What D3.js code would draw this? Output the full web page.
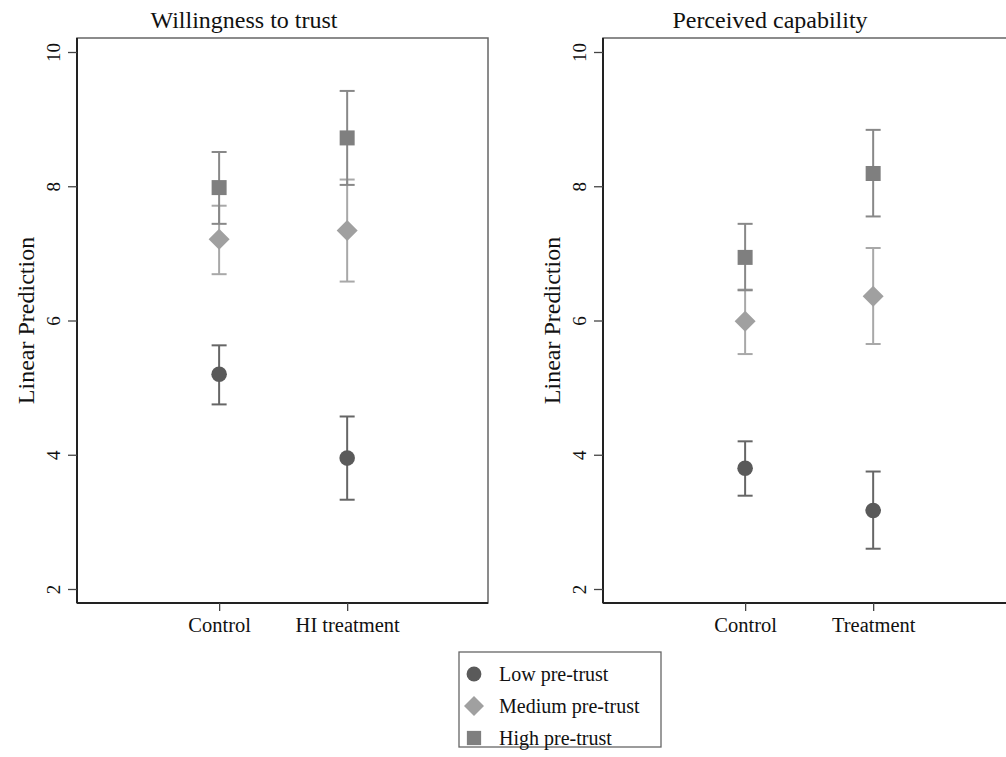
<!DOCTYPE html>
<html>
<head>
<meta charset="utf-8">
<script src="https://d3js.org/d3.v7.min.js"></script>
<style>
  body { margin: 0; background: #fff; }
  text { font-family: "Liberation Serif", "Times New Roman", serif; fill: #111; }
</style>
</head>
<body>
<svg id="chart" width="1006" height="757"></svg>
<script>
// data
var groups = ["Low pre-trust", "Medium pre-trust", "High pre-trust"]
var panelTitles = ["Willingness to trust", "Perceived capability"]
var catsLeft = ["Control", "HI treatment"]
var catsRight = ["Control", "Treatment"]
var yTicks = [2, 4, 6, 8, 10]

// [control, treatment] per group: estimate, lower, upper
var trustEst = [[5.20, 3.95], [7.21, 7.34], [7.98, 8.72]]
var trustLo  = [[4.75, 3.33], [6.69, 6.58], [7.44, 8.02]]
var trustHi  = [[5.63, 4.57], [7.71, 8.10], [8.51, 9.42]]

var capEst = [[3.80, 3.17], [5.99, 6.36], [6.94, 8.19]]
var capLo  = [[3.39, 2.60], [5.50, 5.65], [6.45, 7.55]]
var capHi  = [[4.20, 3.75], [6.46, 7.08], [7.44, 8.84]]

var markerFill = ["#5a5a5a", "#a0a0a0", "#7f7f7f"]
var barColor = ["#666666", "#a8a8a8", "#888888"]
var shapes = ["circle", "diamond", "square"]

var svg = d3.select("#chart")

var plotTop = 38, plotBottom = 603, panelW = 411
var y = d3.scaleLinear().domain([2, 10]).range([589, 52])

function drawMarker(g, shape, cx, cy, fill, s) {
    s = s || 1
    if (shape == "circle") {
        g.append("circle").attr("cx", cx).attr("cy", cy).attr("r", 7.8 * s).attr("fill", fill)
    } else if (shape == "diamond") {
        var r = 10.5 * s
        g.append("path")
            .attr("d", "M" + cx + "," + (cy - r) + "L" + (cx + r) + "," + cy + "L" + cx + "," + (cy + r) + "L" + (cx - r) + "," + cy + "Z")
            .attr("fill", fill)
    } else {
        var h = 7.5 * s
        g.append("rect").attr("x", cx - h).attr("y", cy - h).attr("width", 2 * h).attr("height", 2 * h).attr("fill", fill)
    }
}

function drawPanel(left, title, cats, est, lo, hi) {
    var g = svg.append("g")
    var x = d3.scaleLinear().domain([-1.11, 2.1]).range([left, left + panelW])

    // frame
    g.append("rect")
        .attr("x", left).attr("y", plotTop).attr("width", panelW).attr("height", plotBottom - plotTop)
        .attr("fill", "none").attr("stroke", "#666").attr("stroke-width", 1.5)

    var yAxis = d3.axisLeft(y).tickValues(yTicks).tickSize(9).tickPadding(6).tickFormat(d3.format("d"))
    var ya = g.append("g").attr("transform", "translate(" + left + ",0)").call(yAxis)
    ya.select(".domain").attr("stroke", "#222").attr("stroke-width", 2).attr("d", "M0," + plotTop + "V" + plotBottom)
    ya.selectAll(".tick line").attr("stroke", "#444").attr("stroke-width", 1.3)
    ya.selectAll(".tick text")
        .attr("font-size", 19).attr("fill", "#111")
        .attr("x", 0).attr("y", 0).attr("dy", 0)
        .attr("text-anchor", "middle")
        .attr("transform", "translate(-17,0) rotate(-90)")

    var xAxis = d3.axisBottom(x).tickValues([0, 1]).tickSize(8).tickPadding(6)
        .tickFormat(function(d) { return cats[d] })
    var xa = g.append("g").attr("transform", "translate(0," + plotBottom + ")").call(xAxis)
    xa.select(".domain").attr("stroke", "#222").attr("stroke-width", 2).attr("d", "M" + left + ",0H" + (left + panelW))
    xa.selectAll(".tick line").attr("stroke", "#444").attr("stroke-width", 1.3)
    xa.selectAll(".tick text").attr("font-size", 20.5).attr("fill", "#111")

    // y label
    g.append("text")
        .attr("transform", "translate(" + (left - 43) + "," + ((plotTop + plotBottom) / 2) + ") rotate(-90)")
        .attr("text-anchor", "middle").attr("font-size", 24)
        .text("Linear Prediction")

    // title
    g.append("text")
        .attr("x", left - 77 + (panelW + 77) / 2).attr("y", 28)
        .attr("text-anchor", "middle").attr("font-size", 24)
        .text(title)

    // error bars then markers
    for (var k = 0; k < groups.length; k++) {
        for (var c = 0; c < 2; c++) {
            var cx = x(c)
            g.append("line").attr("x1", cx).attr("x2", cx).attr("y1", y(lo[k][c])).attr("y2", y(hi[k][c]))
                .attr("stroke", barColor[k]).attr("stroke-width", 2)
            ;[lo[k][c], hi[k][c]].forEach(function(v) {
                g.append("line").attr("x1", cx - 7.5).attr("x2", cx + 7.5).attr("y1", y(v)).attr("y2", y(v))
                    .attr("stroke", barColor[k]).attr("stroke-width", 2)
            })
        }
    }
    for (var k = 0; k < groups.length; k++) {
        for (var c = 0; c < 2; c++) {
            drawMarker(g, shapes[k], x(c), y(est[k][c]), markerFill[k])
        }
    }
}

drawPanel(77, panelTitles[0], catsLeft, trustEst, trustLo, trustHi)
drawPanel(603, panelTitles[1], catsRight, capEst, capLo, capHi)

// legend
var lg = svg.append("g")
lg.append("rect").attr("x", 459).attr("y", 652).attr("width", 202).attr("height", 95)
    .attr("fill", "#fff").attr("stroke", "#666").attr("stroke-width", 1.3)
groups.forEach(function(name, i) {
    var cy = 674 + i * 32
    drawMarker(lg, shapes[i], 474, cy, markerFill[i], 0.95)
    lg.append("text").attr("x", 499).attr("y", cy).attr("dy", "0.35em")
        .attr("font-size", 20).text(name)
})
</script>
</body>
</html>
